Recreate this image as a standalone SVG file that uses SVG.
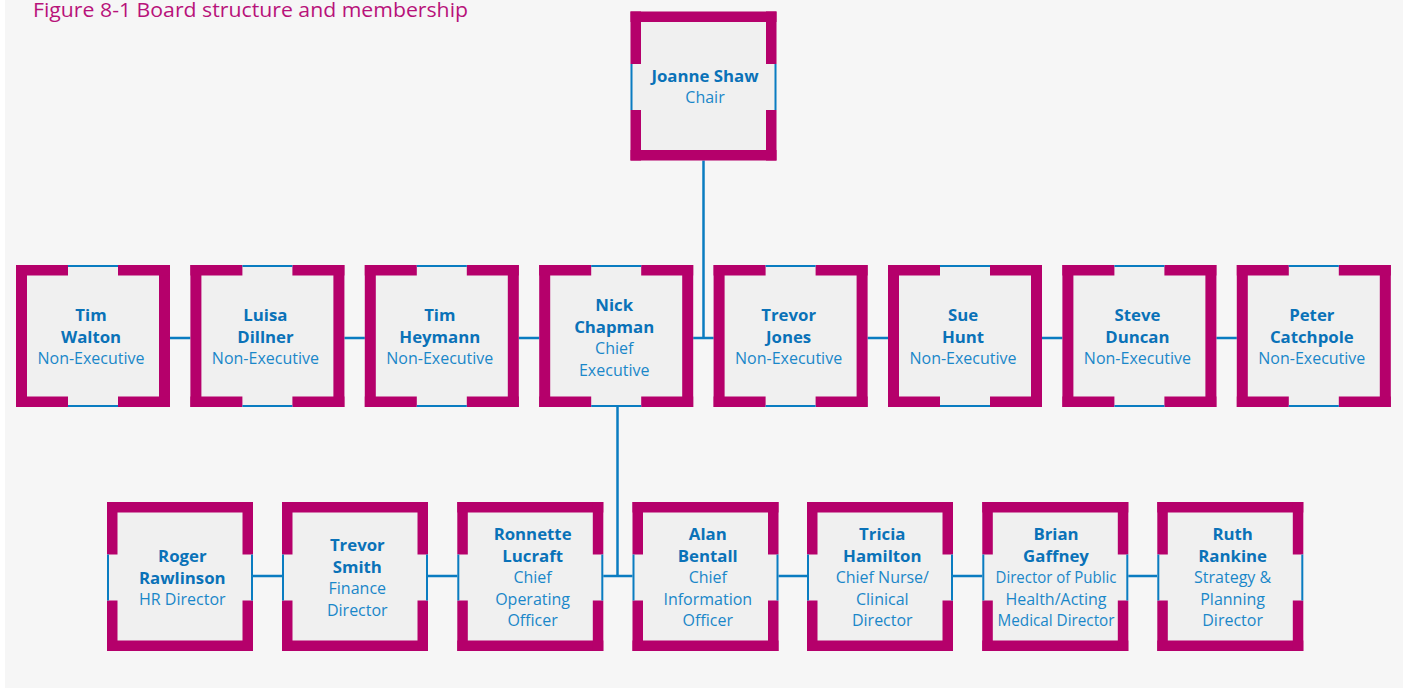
<svg xmlns="http://www.w3.org/2000/svg" xmlns:xlink="http://www.w3.org/1999/xlink" width="1406" height="688" viewBox="0 0 1406 688">
<style>
.bg{fill:#f6f6f6}
.fill{fill:#f0f0f0}
.mag{fill:#b5006b}
.blu{fill:#0a7cc1}
.conn{stroke:#0a7cc1;stroke-width:2.5;fill:none}
.title{font-family:"Open Sans","Noto Sans","Liberation Sans",sans-serif;font-size:19.5px;fill:#b8127a}
text.n{font-family:"Open Sans","Noto Sans","Liberation Sans",sans-serif;font-size:16px;text-anchor:middle}
.b{font-weight:bold;fill:#0a72b8;font-size:16.8px}
.r{fill:#1a87c9}
</style>
<defs>
<g id="frameTop">
<rect class="fill" x="0" y="0" width="154" height="142"/>
<rect class="mag" x="0" y="0" width="11" height="142"/>
<rect class="mag" x="143" y="0" width="11" height="142"/>
<rect class="mag" x="0" y="0" width="52" height="10.5"/>
<rect class="mag" x="102" y="0" width="52" height="10.5"/>
<rect class="mag" x="0" y="131.5" width="52" height="10.5"/>
<rect class="mag" x="102" y="131.5" width="52" height="10.5"/>
<rect class="blu" x="52" y="0" width="50" height="2"/>
<rect class="blu" x="52" y="140" width="50" height="2"/>
</g>
<g id="frameSide">
<rect class="fill" x="0" y="0" width="146" height="149"/>
<rect class="mag" x="0" y="0" width="146" height="10.5"/>
<rect class="mag" x="0" y="138.5" width="146" height="10.5"/>
<rect class="mag" x="0" y="0" width="10.5" height="52.5"/>
<rect class="mag" x="135.5" y="0" width="10.5" height="52.5"/>
<rect class="mag" x="0" y="98.5" width="10.5" height="50.5"/>
<rect class="mag" x="135.5" y="98.5" width="10.5" height="50.5"/>
<rect class="blu" x="0" y="52.5" width="2" height="46"/>
<rect class="blu" x="144" y="52.5" width="2" height="46"/>
</g>
</defs>
<rect class="bg" x="5" y="0" width="1398" height="688"/>
<text class="title" x="33" y="17" textLength="435" lengthAdjust="spacingAndGlyphs">Figure 8-1 Board structure and membership</text>
<g id="connectors">
<line class="conn" x1="170" y1="338" x2="1237" y2="338"/>
<line class="conn" x1="703.5" y1="160" x2="703.5" y2="338"/>
<line class="conn" x1="617.5" y1="407" x2="617.5" y2="576"/>
<line class="conn" x1="253" y1="576" x2="1157" y2="576"/>
</g>
<g id="chair">
<use xlink:href="#frameSide" x="630.5" y="11.5"/>
<text class="n" x="705" y="81.5"><tspan class="b" x="705">Joanne Shaw</tspan><tspan class="r" x="705" dy="21.5">Chair</tspan></text>
</g>
<g id="tim-walton">
<use xlink:href="#frameTop" x="16" y="265"/>
<text class="n" y="321"><tspan class="b" x="91">Tim</tspan><tspan class="b" x="91" dy="21.5">Walton</tspan><tspan class="r" x="91" dy="21.5">Non-Executive</tspan></text>
</g>
<g id="luisa-dillner">
<use xlink:href="#frameTop" x="190.4" y="265"/>
<text class="n" y="321"><tspan class="b" x="265.4">Luisa</tspan><tspan class="b" x="265.4" dy="21.5">Dillner</tspan><tspan class="r" x="265.4" dy="21.5">Non-Executive</tspan></text>
</g>
<g id="tim-heymann">
<use xlink:href="#frameTop" x="364.8" y="265"/>
<text class="n" y="321"><tspan class="b" x="439.8">Tim</tspan><tspan class="b" x="439.8" dy="21.5">Heymann</tspan><tspan class="r" x="439.8" dy="21.5">Non-Executive</tspan></text>
</g>
<g id="nick-chapman">
<use xlink:href="#frameTop" x="539.2" y="265"/>
<text class="n" y="311"><tspan class="b" x="614.2">Nick</tspan><tspan class="b" x="614.2" dy="21.5">Chapman</tspan><tspan class="r" x="614.2" dy="21.5">Chief</tspan><tspan class="r" x="614.2" dy="21.5">Executive</tspan></text>
</g>
<g id="trevor-jones">
<use xlink:href="#frameTop" x="713.6" y="265"/>
<text class="n" y="321"><tspan class="b" x="788.6">Trevor</tspan><tspan class="b" x="788.6" dy="21.5">Jones</tspan><tspan class="r" x="788.6" dy="21.5">Non-Executive</tspan></text>
</g>
<g id="sue-hunt">
<use xlink:href="#frameTop" x="888" y="265"/>
<text class="n" y="321"><tspan class="b" x="963">Sue</tspan><tspan class="b" x="963" dy="21.5">Hunt</tspan><tspan class="r" x="963" dy="21.5">Non-Executive</tspan></text>
</g>
<g id="steve-duncan">
<use xlink:href="#frameTop" x="1062.4" y="265"/>
<text class="n" y="321"><tspan class="b" x="1137.4">Steve</tspan><tspan class="b" x="1137.4" dy="21.5">Duncan</tspan><tspan class="r" x="1137.4" dy="21.5">Non-Executive</tspan></text>
</g>
<g id="peter-catchpole">
<use xlink:href="#frameTop" x="1236.8" y="265"/>
<text class="n" y="321"><tspan class="b" x="1311.8">Peter</tspan><tspan class="b" x="1311.8" dy="21.5">Catchpole</tspan><tspan class="r" x="1311.8" dy="21.5">Non-Executive</tspan></text>
</g>
<g id="roger-rawlinson">
<use xlink:href="#frameSide" x="107" y="502"/>
<text class="n" y="562"><tspan class="b" x="182.3">Roger</tspan><tspan class="b" x="182.3" dy="21.5">Rawlinson</tspan><tspan class="r" x="182.3" dy="21.5">HR Director</tspan></text>
</g>
<g id="trevor-smith">
<use xlink:href="#frameSide" x="282" y="502"/>
<text class="n" y="551"><tspan class="b" x="357.3">Trevor</tspan><tspan class="b" x="357.3" dy="21.5">Smith</tspan><tspan class="r" x="357.3" dy="21.5">Finance</tspan><tspan class="r" x="357.3" dy="21.5">Director</tspan></text>
</g>
<g id="ronnette-lucraft">
<use xlink:href="#frameSide" x="457.3" y="502"/>
<text class="n" y="540"><tspan class="b" x="532.6">Ronnette</tspan><tspan class="b" x="532.6" dy="21.5">Lucraft</tspan><tspan class="r" x="532.6" dy="21.5">Chief</tspan><tspan class="r" x="532.6" dy="21.5">Operating</tspan><tspan class="r" x="532.6" dy="21.5">Officer</tspan></text>
</g>
<g id="alan-bentall">
<use xlink:href="#frameSide" x="632.5" y="502"/>
<text class="n" y="540"><tspan class="b" x="707.8">Alan</tspan><tspan class="b" x="707.8" dy="21.5">Bentall</tspan><tspan class="r" x="707.8" dy="21.5">Chief</tspan><tspan class="r" x="707.8" dy="21.5">Information</tspan><tspan class="r" x="707.8" dy="21.5">Officer</tspan></text>
</g>
<g id="tricia-hamilton">
<use xlink:href="#frameSide" x="807" y="502"/>
<text class="n" y="540"><tspan class="b" x="882.3">Tricia</tspan><tspan class="b" x="882.3" dy="21.5">Hamilton</tspan><tspan class="r" x="882.3" dy="21.5">Chief Nurse/</tspan><tspan class="r" x="882.3" dy="21.5">Clinical</tspan><tspan class="r" x="882.3" dy="21.5">Director</tspan></text>
</g>
<g id="brian-gaffney">
<use xlink:href="#frameSide" x="982.3" y="502"/>
<text class="n" y="540"><tspan class="b" x="1056">Brian</tspan><tspan class="b" x="1056" dy="21.5">Gaffney</tspan><tspan class="r" x="1056" dy="21.5" textLength="121" lengthAdjust="spacingAndGlyphs">Director of Public</tspan><tspan class="r" x="1056" dy="21.5">Health/Acting</tspan><tspan class="r" x="1056" dy="21.5" textLength="117" lengthAdjust="spacingAndGlyphs">Medical Director</tspan></text>
</g>
<g id="ruth-rankine">
<use xlink:href="#frameSide" x="1157.3" y="502"/>
<text class="n" y="540"><tspan class="b" x="1232.6">Ruth</tspan><tspan class="b" x="1232.6" dy="21.5">Rankine</tspan><tspan class="r" x="1232.6" dy="21.5">Strategy &amp;</tspan><tspan class="r" x="1232.6" dy="21.5">Planning</tspan><tspan class="r" x="1232.6" dy="21.5">Director</tspan></text>
</g>
</svg>
